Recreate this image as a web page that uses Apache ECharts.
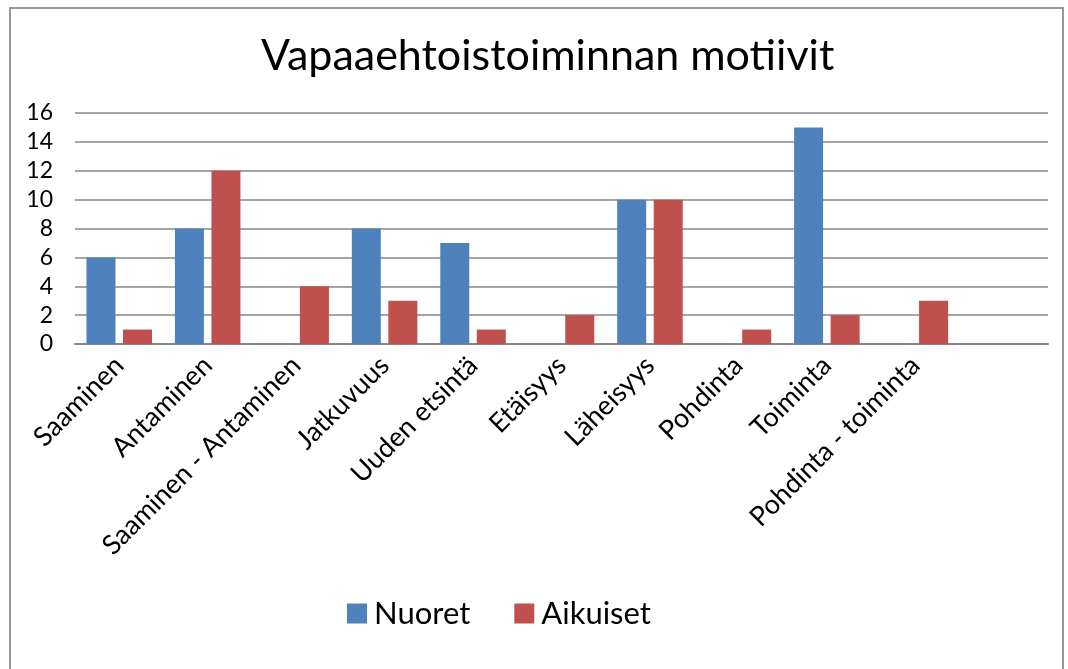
<!DOCTYPE html>
<html>
<head>
<meta charset="utf-8">
<script src="https://cdn.jsdelivr.net/npm/echarts@6/dist/echarts.min.js"></script>
<style>
    html, body { margin: 0; padding: 0; background: #fff; }
    #chart { width: 1068px; height: 669px; }
</style>
</head>
<body>
<div id="chart"></div>
<script>
// categories (viimeinen tyhjä sarake kuten alkuperäisessä)
const categories = ['Saaminen', 'Antaminen', 'Saaminen - Antaminen', 'Jatkuvuus', 'Uuden etsintä',
    'Etäisyys', 'Läheisyys', 'Pohdinta', 'Toiminta', 'Pohdinta - toiminta', '']
const nuoret = [6, 8, 0, 8, 7, 0, 10, 0, 15, 0, '-']
const aikuiset = [1, 12, 4, 3, 1, 2, 10, 1, 2, 3, '-']
const yTicks = { min: 0, max: 16, interval: 2 }

const FONT = 'Lato, "Open Sans", sans-serif'
const GRAY = '#878787'

const chart = echarts.init(document.getElementById('chart'))
chart.setOption({
    animation: false,
    textStyle: { fontFamily: FONT },
    graphic: [{
        type: 'polyline', // kehys
        shape: { points: [[10, 669], [10, 8], [1063, 8], [1063, 669]] },
        style: { stroke: '#9a9a9a', lineWidth: 2, fill: null }
    }],
    title: {
        text: 'Vapaaehtoistoiminnan motiivit',
        left: 256,
        top: 30,
        textStyle: { fontSize: 43, fontWeight: 'normal', color: '#000', fontFamily: FONT }
    },
    legend: {
        left: 342,
        top: 593,
        itemWidth: 20,
        itemHeight: 20,
        itemGap: 44,
        icon: 'rect',
        textStyle: { fontSize: 31, color: '#000', fontFamily: FONT, padding: [0, 0, 0, 2] },
        data: ['Nuoret', 'Aikuiset']
    },
    grid: {
        top: 113,
        bottom: 669 - 344,
        left: 75,
        right: 20
    },
    xAxis: {
        type: 'category',
        data: categories,
        axisTick: { show: false },
        axisLine: { lineStyle: { color: GRAY, width: 2 } },
        axisLabel: {
            interval: 0,
            rotate: 45,
            margin: 17,
            fontSize: 27,
            color: '#000',
            fontFamily: FONT
        }
    },
    yAxis: {
        type: 'value',
        min: yTicks.min,
        max: yTicks.max,
        interval: yTicks.interval,
        axisLine: { show: false },
        axisTick: { show: false },
        axisLabel: { fontSize: 23, color: '#000', margin: 22, fontFamily: FONT },
        splitLine: { lineStyle: { color: GRAY, width: 1.5 } }
    },
    series: [
        {
            name: 'Nuoret',
            type: 'bar',
            data: nuoret,
            barWidth: 29,
            barGap: '26%',
            itemStyle: { color: '#4F81BD' }
        },
        {
            name: 'Aikuiset',
            type: 'bar',
            data: aikuiset,
            barWidth: 29,
            barGap: '26%',
            itemStyle: { color: '#C0504D' }
        }
    ]
})
</script>
</body>
</html>
